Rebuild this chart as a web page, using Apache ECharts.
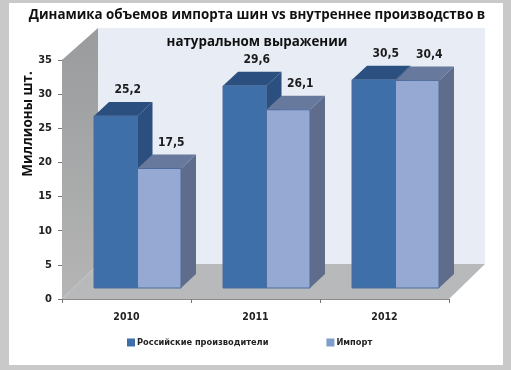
<!DOCTYPE html>
<html>
<head>
<meta charset="utf-8">
<style>
  html, body { margin: 0; padding: 0; background: #c9c9c9; }
  #ec { width: 511px; height: 370px; filter: blur(0.4px); }
</style>
</head>
<body>
<div id="ec"></div>
<script src="https://cdn.jsdelivr.net/npm/echarts@6/dist/echarts.min.js"></script>
<script>
var years = ["2010", "2011", "2012"];
var russian = [25.2, 29.6, 30.5];
var imported = [17.5, 26.1, 30.4];
var yTicks = [0, 5, 10, 15, 20, 25, 30, 35];

var myChart = echarts.init(document.getElementById("ec"));

// bars stand in front of the axis plane, shifted right and up
var barShift = 11;
var barWidth = 43.5;
var depthX = 15;
var depthY = -14;

function walls(params, api) {
  var c = params.coordSys;
  var l = c.x, r = c.x + c.width, t = c.y, b = c.y + c.height;
  return {
    type: "group",
    children: [
      { type: "polygon", shape: { points: [[l + 36, t - 32], [r + 36, t - 32], [r + 36, b - 35], [l + 36, b - 35]] }, style: { fill: "#e8ecf5" } },
      { type: "polygon", shape: { points: [[l, t], [l + 36, t - 32], [l + 36, b - 35], [l, b]] },
        style: { fill: new echarts.graphic.LinearGradient(0, 0, 0, 1, [{ offset: 0, color: "#999b9c" }, { offset: 1, color: "#b5b5b5" }]) } },
      { type: "polygon", shape: { points: [[l, b], [l + 36, b - 35], [r + 36, b - 35], [r, b]] }, style: { fill: "#b7b9ba" } }
    ]
  };
}

function bar3d(side, front, top, dark) {
  return function (params, api) {
    var base = api.coord([api.value(0), 0]);
    var head = api.coord([api.value(0), api.value(1)]);
    var x = base[0] + barShift + side * barWidth;
    var y0 = base[1] - barShift;
    var y1 = head[1] - barShift;
    var x1 = x + barWidth;
    return {
      type: "group",
      children: [
        { type: "polygon", shape: { points: [[x1, y1], [x1 + depthX, y1 + depthY], [x1 + depthX, y0 + depthY], [x1, y0]] }, style: { fill: dark } },
        { type: "polygon", shape: { points: [[x, y1], [x + depthX, y1 + depthY], [x1 + depthX, y1 + depthY], [x1, y1]] }, style: { fill: top } },
        { type: "rect", shape: { x: x, y: y1, width: barWidth, height: y0 - y1 }, style: { fill: front, stroke: "#4c6c9c", lineWidth: 1 } },
        { type: "text", x: x + barWidth / 2 + 12, y: y1 - 26, style: {
            text: String(api.value(1)).replace(".", ","), align: "center", verticalAlign: "middle",
            font: "bold 12px 'DejaVu Sans Condensed'", fill: "#1c1c1c" } }
      ]
    };
  };
}

myChart.setOption({
  backgroundColor: "#c9c9c9",
  animation: false,
  graphic: [
    { type: "rect", z: -1, shape: { x: 9, y: 3, width: 494, height: 362 }, style: { fill: "#ffffff" } },
    { type: "text", z: 10, x: 28, y: 124, rotation: Math.PI / 2, style: {
        text: "Миллионы шт.", align: "center", verticalAlign: "middle",
        font: "bold 13.4px 'Open Sans'", fill: "#111111" } }
  ],
  title: {
    text: "Динамика объемов импорта шин vs внутреннее производство в\nнатуральном выражении",
    left: 252,
    top: -3,
    textAlign: "center",
    textStyle: { fontFamily: "Open Sans", fontWeight: "bold", fontSize: 13.35, lineHeight: 27, color: "#111111" }
  },
  legend: {
    left: 122,
    top: 333,
    itemWidth: 8,
    itemHeight: 8,
    itemGap: 58,
    icon: "rect",
    data: ["Российские производители", "Импорт"],
    textStyle: { fontFamily: "DejaVu Sans Condensed", fontWeight: "bold", fontSize: 9.2, color: "#222222", padding: [0, 0, 0, -3] }
  },
  grid: { left: 62, top: 60, width: 387, height: 239 },
  xAxis: {
    type: "category",
    data: years,
    axisLine: { lineStyle: { color: "#8a8a8a", width: 1 } },
    axisTick: { show: true, length: 4, lineStyle: { color: "#777777" } },
    axisLabel: { margin: 13, fontFamily: "DejaVu Sans Condensed", fontWeight: "bold", fontSize: 10.5, color: "#222222" }
  },
  yAxis: {
    type: "value",
    min: yTicks[0],
    max: yTicks[yTicks.length - 1],
    interval: 5,
    splitLine: { show: false },
    axisLine: { show: true, lineStyle: { color: "#8a8a8a", width: 1 } },
    axisTick: { show: true, length: 4, lineStyle: { color: "#777777" } },
    axisLabel: { margin: 10, fontFamily: "DejaVu Sans Condensed", fontWeight: "bold", fontSize: 11, color: "#222222" }
  },
  series: [
    { name: "стены", type: "custom", silent: true, z: 1, clip: false, data: [0], renderItem: walls },
    {
      name: "Российские производители",
      type: "custom",
      z: 3,
      clip: false,
      encode: { x: 0, y: 1 },
      itemStyle: { color: "#3f6fa8" },
      data: years.map(function (y, i) { return [i, russian[i]]; }),
      renderItem: bar3d(-1, "#3f6fa8", "#2b5080", "#2b4f7f")
    },
    {
      name: "Импорт",
      type: "custom",
      z: 4,
      clip: false,
      encode: { x: 0, y: 1 },
      itemStyle: { color: "#7f9dcb" },
      data: years.map(function (y, i) { return [i, imported[i]]; }),
      renderItem: bar3d(0, "#95a9d2", "#67799c", "#5f6c8b")
    }
  ]
});
</script>
</body>
</html>
